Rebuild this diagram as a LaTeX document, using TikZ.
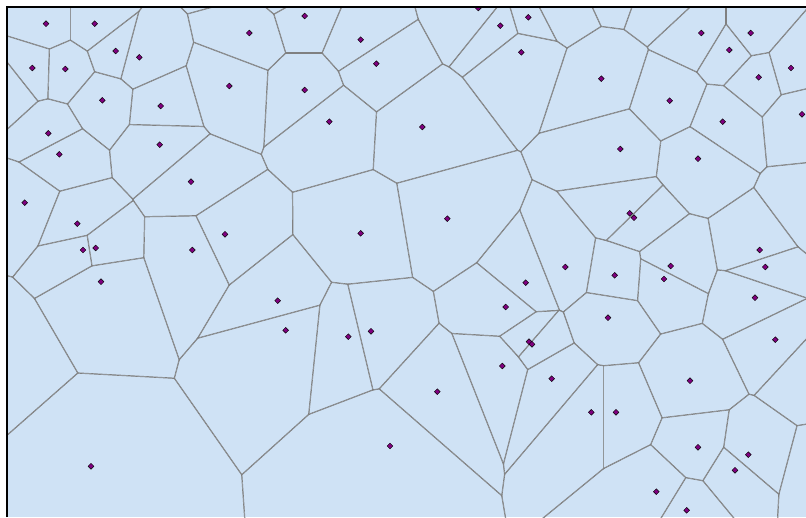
\documentclass[tikz,border=0pt]{standalone}
\definecolor{cellfill}{RGB}{207,226,245}
\definecolor{edgecol}{RGB}{128,128,128}
\definecolor{seedcol}{RGB}{128,0,128}
\tikzset{
  vor edge/.style={draw=edgecol, line width=1.2pt},
  seed mark/.style={fill=seedcol, draw=black, line width=0.45pt},
  frame line/.style={draw=black, line width=2pt}
}
\ExplSyntaxOn
\int_new:N \g_vor_n_int
\fparray_new:Nn \g_vor_x_fparray {400}
\fparray_new:Nn \g_vor_y_fparray {400}
\fp_new:N \l_vor_xi_fp
\fp_new:N \l_vor_yi_fp
\fp_new:N \l_vor_dx_fp
\fp_new:N \l_vor_dy_fp
\fp_new:N \l_vor_d_fp
\fp_new:N \l_vor_ux_fp
\fp_new:N \l_vor_uy_fp
\fp_new:N \l_vor_mx_fp
\fp_new:N \l_vor_my_fp
\tl_new:N \l_vor_clip_tl
\tl_new:N \l_vor_line_tl
\seq_new:N \g_vor_vis_seq
\fp_const:Nn \c_vor_L_fp {1500}
\fp_const:Nn \c_vor_R_fp {420}
\NewDocumentCommand \VorSeed { m m }
  {
    \int_gincr:N \g_vor_n_int
    \fparray_gset:Nnn \g_vor_x_fparray { \g_vor_n_int } {#1}
    \fparray_gset:Nnn \g_vor_y_fparray { \g_vor_n_int } {#2}
    \seq_gput_right:Nn \g_vor_vis_seq { {#1}{#2} }
  }
\NewDocumentCommand \VorGhost { m m }
  {
    \int_gincr:N \g_vor_n_int
    \fparray_gset:Nnn \g_vor_x_fparray { \g_vor_n_int } {#1}
    \fparray_gset:Nnn \g_vor_y_fparray { \g_vor_n_int } {#2}
  }
\cs_new:Npn \vor_r:n #1 { \fp_eval:n { round( #1 , 3 ) } }
\cs_new_protected:Npn \vor_bisector:
  {
    \fp_set:Nn \l_vor_ux_fp { \l_vor_dx_fp / \l_vor_d_fp }
    \fp_set:Nn \l_vor_uy_fp { \l_vor_dy_fp / \l_vor_d_fp }
    \fp_set:Nn \l_vor_mx_fp { \l_vor_xi_fp + \l_vor_dx_fp / 2 }
    \fp_set:Nn \l_vor_my_fp { \l_vor_yi_fp + \l_vor_dy_fp / 2 }
    \tl_put_right:Nx \l_vor_clip_tl
      {
        \exp_not:N \clip
        ( \vor_r:n { \l_vor_mx_fp - \c_vor_L_fp * \l_vor_uy_fp } ,
          \vor_r:n { \l_vor_my_fp + \c_vor_L_fp * \l_vor_ux_fp } ) --
        ( \vor_r:n { \l_vor_mx_fp + \c_vor_L_fp * \l_vor_uy_fp } ,
          \vor_r:n { \l_vor_my_fp - \c_vor_L_fp * \l_vor_ux_fp } ) --
        ( \vor_r:n { \l_vor_mx_fp + \c_vor_L_fp * \l_vor_uy_fp - \c_vor_L_fp * \l_vor_ux_fp } ,
          \vor_r:n { \l_vor_my_fp - \c_vor_L_fp * \l_vor_ux_fp - \c_vor_L_fp * \l_vor_uy_fp } ) --
        ( \vor_r:n { \l_vor_mx_fp - \c_vor_L_fp * \l_vor_uy_fp - \c_vor_L_fp * \l_vor_ux_fp } ,
          \vor_r:n { \l_vor_my_fp + \c_vor_L_fp * \l_vor_ux_fp - \c_vor_L_fp * \l_vor_uy_fp } ) -- cycle ;
      }
    \tl_put_right:Nx \l_vor_line_tl
      {
        \exp_not:N \draw [vor~edge]
        ( \vor_r:n { \l_vor_mx_fp - \c_vor_L_fp * \l_vor_uy_fp } ,
          \vor_r:n { \l_vor_my_fp + \c_vor_L_fp * \l_vor_ux_fp } ) --
        ( \vor_r:n { \l_vor_mx_fp + \c_vor_L_fp * \l_vor_uy_fp } ,
          \vor_r:n { \l_vor_my_fp - \c_vor_L_fp * \l_vor_ux_fp } ) ;
      }
  }
\cs_new_protected:Npn \vor_cell:n #1
  {
    \tl_clear:N \l_vor_clip_tl
    \tl_clear:N \l_vor_line_tl
    \fp_set:Nn \l_vor_xi_fp { \fparray_item:Nn \g_vor_x_fparray {#1} }
    \fp_set:Nn \l_vor_yi_fp { \fparray_item:Nn \g_vor_y_fparray {#1} }
    \int_step_inline:nn { \g_vor_n_int }
      {
        \int_compare:nNnF {##1} = {#1}
          {
            \fp_set:Nn \l_vor_dx_fp { \fparray_item:Nn \g_vor_x_fparray {##1} - \l_vor_xi_fp }
            \fp_set:Nn \l_vor_dy_fp { \fparray_item:Nn \g_vor_y_fparray {##1} - \l_vor_yi_fp }
            \fp_set:Nn \l_vor_d_fp { sqrt( \l_vor_dx_fp * \l_vor_dx_fp + \l_vor_dy_fp * \l_vor_dy_fp ) }
            \fp_compare:nNnT { \l_vor_d_fp } < { \c_vor_R_fp }
              { \vor_bisector: }
          }
      }
    \scope
      \tl_use:N \l_vor_clip_tl
      \tl_use:N \l_vor_line_tl
    \endscope
  }
\cs_new_protected:Npn \vor_seed:n #1 { \vor_seed:nn #1 }
\cs_new_protected:Npn \vor_seed:nn #1#2
  {
    \draw [seed~mark] (#1 , #2) ++ (-2.9 , 0) -- ++ (2.9 , -2.9) -- ++ (2.9 , 2.9) -- ++ (-2.9 , 2.9) -- cycle ;
  }
\NewDocumentCommand \VorDrawCells { }
  { \int_step_function:nN { \g_vor_n_int } \vor_cell:n }
\NewDocumentCommand \VorDrawSeeds { }
  { \seq_map_function:NN \g_vor_vis_seq \vor_seed:n }
\ExplSyntaxOff
\begin{document}
\begin{tikzpicture}[x=1pt,y=-1pt]
\useasboundingbox (0,0) rectangle (806,517);
\fill[white] (0,0) rectangle (806,517);
\VorSeed{46}{23.7}
\VorSeed{94.7}{23.7}
\VorSeed{115.7}{51}
\VorSeed{139.3}{57.3}
\VorSeed{249.3}{33}
\VorSeed{32.3}{68}
\VorSeed{65.3}{69}
\VorSeed{229.3}{86}
\VorSeed{102.3}{100.3}
\VorSeed{160.7}{106}
\VorSeed{48.3}{133.3}
\VorSeed{159.7}{144.7}
\VorSeed{59.3}{154.3}
\VorSeed{191}{181.7}
\VorSeed{24.7}{202.7}
\VorSeed{77.3}{223.7}
\VorSeed{225}{234.3}
\VorSeed{83}{250}
\VorSeed{95.7}{248}
\VorSeed{192.3}{250}
\VorSeed{304.7}{16}
\VorSeed{360.7}{39.7}
\VorSeed{376.3}{63.7}
\VorSeed{304.7}{90}
\VorSeed{329.3}{121.7}
\VorSeed{422.3}{127}
\VorSeed{478.3}{8}
\VorSeed{500.3}{25.7}
\VorSeed{528.3}{17.3}
\VorSeed{521.3}{52.3}
\VorSeed{360.7}{233.3}
\VorSeed{447.3}{218.7}
\VorSeed{701.3}{33}
\VorSeed{750.7}{33}
\VorSeed{729.3}{50}
\VorSeed{791}{68}
\VorSeed{758.7}{77.3}
\VorSeed{601.3}{78.7}
\VorSeed{669.7}{100.7}
\VorSeed{722.7}{121.7}
\VorSeed{802}{114.3}
\VorSeed{620.3}{149}
\VorSeed{698}{158.7}
\VorSeed{629.7}{213.3}
\VorSeed{634}{217.7}
\VorSeed{759.7}{250}
\VorSeed{101}{281.7}
\VorSeed{91}{466.3}
\VorSeed{277.7}{300.7}
\VorSeed{285.7}{330.3}
\VorSeed{348.3}{336.7}
\VorSeed{371}{331.3}
\VorSeed{525.7}{282.7}
\VorSeed{505.7}{307}
\VorSeed{529}{341.7}
\VorSeed{532}{344.3}
\VorSeed{502.3}{366}
\VorSeed{437.3}{391.7}
\VorSeed{390}{446}
\VorSeed{565.3}{267}
\VorSeed{614.7}{275.3}
\VorSeed{670.7}{266}
\VorSeed{664}{279}
\VorSeed{765.3}{267}
\VorSeed{755}{297.7}
\VorSeed{608}{317.7}
\VorSeed{775.3}{339.7}
\VorSeed{551.7}{378.7}
\VorSeed{690}{380.7}
\VorSeed{591.3}{412.3}
\VorSeed{616}{412.3}
\VorSeed{698}{447.3}
\VorSeed{748.3}{454.7}
\VorSeed{735}{470.3}
\VorSeed{656.3}{491.7}
\VorSeed{686.7}{510.3}
% seeds lying outside the frame (cells only)
\VorGhost{231}{-34}
\VorGhost{288.5}{-13}
\VorGhost{554}{4}
\VorGhost{614.7}{-24}
\VorGhost{665}{-6}
\VorGhost{812}{211}
\VorGhost{808}{370}
\VorGhost{825}{475}
\VorGhost{7}{88}
\VorGhost{-13}{348}
\begin{scope}
\clip (7,7) rectangle (806,517);
\fill[cellfill] (7,7) rectangle (806,517);
\VorDrawCells
\VorDrawSeeds
\end{scope}
\draw[frame line] (6.8,517) -- (6.8,6.8) -- (806,6.8);
\end{tikzpicture}
\end{document}
